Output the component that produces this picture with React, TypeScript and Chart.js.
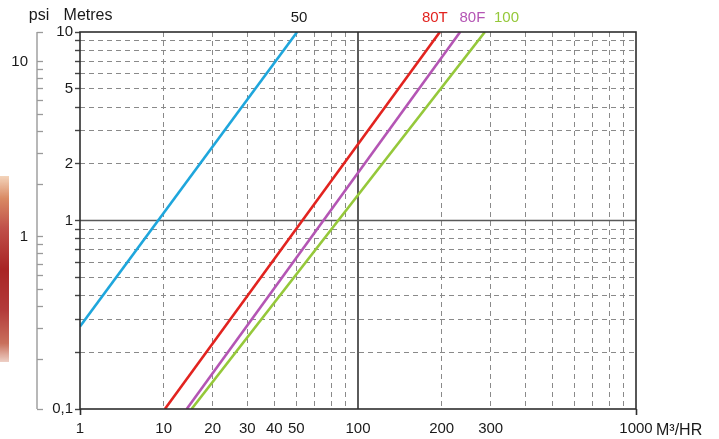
import { useEffect, useRef } from "react";
import { Chart, registerables } from "chart.js";

Chart.register(...registerables);

// ---- Axis values (x values are positions on the plotted log scale) ----
const xGridValues = [10, 20, 30, 40, 50, 60, 70, 80, 90, 100, 200, 300, 400, 500, 600, 700, 800, 900, 1000];
const xLabelValues = [10, 20, 30, 40, 50, 60, 100, 200, 300, 1000];
const xLabelTexts = ["1", "10", "20", "30", "40", "50", "100", "200", "300", "1000"];

const metresGridValues = [0.1, 0.2, 0.3, 0.4, 0.5, 0.6, 0.7, 0.8, 0.9, 1, 2, 3, 4, 5, 6, 7, 8, 9, 10];
const metresLabelValues = [0.1, 1, 2, 5, 10];
const metresLabelTexts = ["0,1", "1", "2", "5", "10"];

const psiMin = 0.104;
const psiMax = 14.8;
const psiTickValues = [0.104, 0.2, 0.3, 0.4, 0.5, 0.6, 0.7, 0.8, 0.9, 1, 2, 3, 4, 5, 6, 7, 8, 9, 10, 14.8];
const psiLabelValues = [1, 10];
const psiLabelTexts = ["1", "10"];

// ---- Series ----
const seriesNames = ["50", "80T", "80F", "100"];
const seriesColors = ["#1ea6dc", "#e2231f", "#b455b4", "#95c83a"];
const seriesLabelColors = ["#1a1a1a", "#e2231f", "#b455b4", "#95c83a"];
const seriesLabelFlows = [61.4, 189, 258, 342];

const flow50 = [10, 60.4];
const head50 = [0.274, 10];
const flow80T = [20.2, 197];
const head80T = [0.1, 10];
const flow80F = [24.2, 233];
const head80F = [0.1, 10];
const flow100 = [25.2, 286];
const head100 = [0.1, 10];

const seriesFlows = [flow50, flow80T, flow80F, flow100];
const seriesHeads = [head50, head80T, head80F, head100];

const FONT = "'Liberation Sans', Arial, Helvetica, sans-serif";
const DARK = "#2e2e2e";
const GRID = "#8a8a8a";
const CLEAR = "rgba(0,0,0,0)";

const near = (a: number, b: number) => Math.abs(a - b) <= Math.abs(b) * 1e-6;
const labelFor = (vals: number[], texts: string[], v: number) => {
  const i = vals.findIndex((x) => near(v, x));
  return i >= 0 ? texts[i] : "";
};

const decorPlugin = {
  id: "decor",
  beforeDatasetsDraw(chart: any) {
    const { ctx, chartArea: a, scales } = chart;
    const x100 = scales.x.getPixelForValue(100);
    const y1 = scales.y.getPixelForValue(1);
    ctx.save();
    ctx.setLineDash([]);
    ctx.lineWidth = 1.6;
    ctx.strokeStyle = "#333";
    ctx.beginPath();
    ctx.moveTo(x100, a.top);
    ctx.lineTo(x100, a.bottom);
    ctx.stroke();
    ctx.strokeStyle = "#5a5a5a";
    ctx.beginPath();
    ctx.moveTo(a.left, y1);
    ctx.lineTo(a.right, y1);
    ctx.stroke();
    ctx.restore();
  },
  afterDatasetsDraw(chart: any) {
    const { ctx, chartArea: a, scales } = chart;
    ctx.save();
    ctx.setLineDash([]);
    // frame
    ctx.strokeStyle = DARK;
    ctx.lineWidth = 1.6;
    ctx.strokeRect(a.left, a.top, a.right - a.left, a.bottom - a.top);
    // psi axis line
    const psi = scales.psi;
    const px = psi.right - 6;
    ctx.strokeStyle = "#9a9a9a";
    ctx.lineWidth = 1.4;
    ctx.beginPath();
    ctx.moveTo(px, psi.getPixelForValue(psiMax));
    ctx.lineTo(px, psi.getPixelForValue(psiMin));
    ctx.stroke();

    // curve labels on top
    ctx.textAlign = "center";
    ctx.textBaseline = "alphabetic";
    ctx.font = `15px ${FONT}`;
    seriesNames.forEach((n, i) => {
      ctx.fillStyle = seriesLabelColors[i];
      ctx.fillText(n, scales.x.getPixelForValue(seriesLabelFlows[i]), 22);
    });
    // axis titles
    ctx.fillStyle = "#1a1a1a";
    ctx.font = `16px ${FONT}`;
    ctx.fillText("psi", 39, 20);
    ctx.fillText("Metres", 88, 20);
    ctx.textAlign = "left";
    ctx.font = `16px ${FONT}`;
    ctx.fillText("M³/HR", 656, 435);
    ctx.restore();
  },
};

export default function App() {
  const ref = useRef<HTMLCanvasElement>(null);

  useEffect(() => {
    document.body.style.margin = "0";
    Chart.defaults.font.family = FONT;

    const datasets = seriesNames.map((n, i) => ({
      label: n,
      data: seriesFlows[i].map((f, j) => ({ x: f, y: seriesHeads[i][j] })),
      borderColor: seriesColors[i],
      backgroundColor: seriesColors[i],
      borderWidth: 2.6,
      pointRadius: 0,
      tension: 0,
      fill: false,
    }));

    const chart = new Chart(ref.current!, {
      type: "line",
      data: { datasets },
      plugins: [decorPlugin],
      options: {
        animation: false,
        responsive: false,
        maintainAspectRatio: false,
        layout: { padding: { top: 32, right: 83, left: 0, bottom: 0 } },
        plugins: { legend: { display: false }, tooltip: { enabled: false } },
        scales: {
          x: {
            type: "logarithmic",
            position: "bottom",
            min: 10,
            max: 1000,
            afterBuildTicks: (s: any) => {
              s.ticks = xGridValues.map((v) => ({ value: v }));
            },
            afterFit: (s: any) => {
              s.height = 30;
            },
            ticks: {
              autoSkip: false,
              maxRotation: 0,
              padding: 5,
              color: "#1a1a1a",
              font: { size: 15 },
              callback: (v: any) => labelFor(xLabelValues, xLabelTexts, Number(v)),
            },
            grid: {
              color: (c: any) => {
                const v = c.tick?.value;
                if (v === undefined) return GRID;
                if (near(v, 10) || near(v, 100) || near(v, 1000)) return CLEAR;
                return GRID;
              },
              lineWidth: 1,
              tickLength: 6,
              tickWidth: 1.6,
              tickColor: (c: any) => {
                const v = c.tick?.value;
                if (v !== undefined && (near(v, 10) || near(v, 1000))) return DARK;
                return CLEAR;
              },
            },
            border: { display: false, dash: [5, 4] },
          },
          y: {
            type: "logarithmic",
            position: "left",
            weight: 0,
            min: 0.1,
            max: 10,
            afterBuildTicks: (s: any) => {
              s.ticks = metresGridValues.map((v) => ({ value: v }));
            },
            afterFit: (s: any) => {
              s.width = 37;
            },
            ticks: {
              autoSkip: false,
              padding: 2,
              color: "#1a1a1a",
              font: { size: 15 },
              callback: (v: any) => labelFor(metresLabelValues, metresLabelTexts, Number(v)),
            },
            grid: {
              color: (c: any) => {
                const v = c.tick?.value;
                if (v === undefined) return GRID;
                if (near(v, 0.1) || near(v, 1) || near(v, 10)) return CLEAR;
                return GRID;
              },
              lineWidth: 1,
              tickLength: 5,
              tickWidth: 1.4,
              tickColor: "#444",
            },
            border: { display: false, dash: [5, 4] },
          },
          psi: {
            type: "logarithmic",
            position: "left",
            weight: 1,
            min: psiMin,
            max: psiMax,
            afterBuildTicks: (s: any) => {
              s.ticks = psiTickValues.map((v) => ({ value: v }));
            },
            afterFit: (s: any) => {
              s.width = 43;
            },
            ticks: {
              autoSkip: false,
              padding: 9,
              color: "#1a1a1a",
              font: { size: 15 },
              callback: (v: any) => labelFor(psiLabelValues, psiLabelTexts, Number(v)),
            },
            grid: {
              drawOnChartArea: false,
              tickLength: 6,
              tickWidth: 1.3,
              tickColor: "#9a9a9a",
            },
            border: { display: false },
          },
        },
      } as any,
    });
    return () => chart.destroy();
  }, []);

  return (
    <div style={{ position: "relative", width: 719, height: 439, background: "#fff" }}>
      <div
        style={{
          position: "absolute",
          left: 0,
          top: 176,
          width: 9,
          height: 186,
          background:
            "linear-gradient(180deg, rgba(232,170,120,0.5) 0%, #d98a64 12%, #c0504a 28%, #a82424 50%, #b33a3a 72%, #c9705c 90%, rgba(220,160,140,0.5) 100%)",
          filter: "blur(0.7px)",
        }}
      />
      <canvas
        ref={ref}
        width={719}
        height={439}
        style={{ position: "absolute", left: 0, top: 0, display: "block" }}
      />
    </div>
  );
}
